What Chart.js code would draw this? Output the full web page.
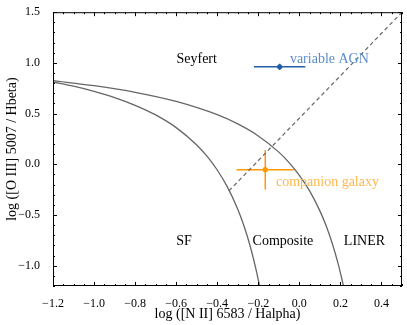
<!DOCTYPE html>
<html>
<head>
<meta charset="utf-8">
<script src="https://cdn.jsdelivr.net/npm/chart.js@4/dist/chart.umd.min.js"></script>
<style>
  html, body { margin: 0; padding: 0; background: #fff; }
  #wrap { width: 407px; height: 325px; }
</style>
</head>
<body>
<div id="wrap"><canvas id="bpt" width="407" height="325"></canvas></div>
<script>
// demarcation curves
const kauffX = [-1.2, -1.1, -1.0, -0.9, -0.8, -0.7, -0.6, -0.5, -0.45, -0.4, -0.35, -0.3, -0.27, -0.24, -0.21, -0.194];
const kauffY = [0.812, 0.770, 0.719, 0.658, 0.582, 0.487, 0.362, 0.191, 0.080, -0.056, -0.225, -0.443, -0.606, -0.803, -1.046, -1.2];
const kewleyX = [-1.2, -1.0, -0.8, -0.6, -0.4, -0.3, -0.2, -0.1, -0.05, 0.0, 0.05, 0.1, 0.13, 0.16, 0.19, 0.215];
const kewleyY = [0.825, 0.775, 0.710, 0.620, 0.489, 0.398, 0.280, 0.120, 0.017, -0.108, -0.262, -0.459, -0.604, -0.778, -0.989, -1.2];
const dashX = [-0.343, 0.5];
const dashY = [-0.262, 1.5];

// sources with errors
const srcNames = ['variable AGN', 'companion galaxy'];
const srcX = [-0.096, -0.166];
const srcY = [0.961, -0.053];
const srcXErr = [0.125, 0.14];
const srcYErr = [0.03, 0.195];
const srcColors = ['#1f5fa5', '#ff9900'];
const srcTextColors = ['#5a8ccb', '#ffb84d'];

const xTicks = [-1.2, -1.0, -0.8, -0.6, -0.4, -0.2, 0.0, 0.2, 0.4];
const yTicks = [-1.0, -0.5, 0.0, 0.5, 1.0, 1.5];

const regionLabels = [
    { text: 'Seyfert', x: -0.50, y: 1.04, align: 'center' },
    { text: 'SF', x: -0.562, y: -0.76, align: 'center' },
    { text: 'Composite', x: -0.08, y: -0.76, align: 'center' },
    { text: 'LINER', x: 0.317, y: -0.76, align: 'center' }
];
const srcLabelPos = [
    { x: -0.046, y: 1.04 },
    { x: -0.114, y: -0.173 }
];

const serif = "'Liberation Serif', 'DejaVu Serif', serif";
const fmt = v => v.toFixed(1).replace('-', '\u2212');
const pairs = (xs, ys) => xs.map((x, i) => ({ x: x, y: ys[i] }));

const datasets = [
    { data: pairs(kauffX, kauffY), borderColor: '#666666', borderWidth: 1.3 },
    { data: pairs(kewleyX, kewleyY), borderColor: '#666666', borderWidth: 1.3 },
    { data: pairs(dashX, dashY), borderColor: '#666666', borderWidth: 1.2, borderDash: [4, 3] }
];
srcNames.forEach((n, i) => {
    datasets.push({
        data: [{ x: srcX[i] - srcXErr[i], y: srcY[i] }, { x: srcX[i] + srcXErr[i], y: srcY[i] }],
        borderColor: srcColors[i], borderWidth: 1.5
    });
    datasets.push({
        data: [{ x: srcX[i], y: srcY[i] - srcYErr[i] }, { x: srcX[i], y: srcY[i] + srcYErr[i] }],
        borderColor: srcColors[i], borderWidth: 1.5
    });
    datasets.push({
        data: [{ x: srcX[i], y: srcY[i] }],
        showLine: false, pointRadius: 2.6, pointBackgroundColor: srcColors[i], pointBorderWidth: 0
    });
});
datasets.forEach(d => {
    d.type = 'line';
    if (d.pointRadius === undefined) d.pointRadius = 0;
    d.fill = false;
    d.tension = 0;
    d.cubicInterpolationMode = 'monotone';
});
datasets.slice(0, 2).forEach(d => { d.tension = 0.4; });

// frame, inward ticks, annotations
const framePlugin = {
    id: 'frame',
    afterDatasetsDraw(chart) {
        const ctx = chart.ctx;
        const a = chart.chartArea;
        const xs = chart.scales.x, ys = chart.scales.y;
        ctx.save();
        ctx.strokeStyle = '#000';
        ctx.lineWidth = 1;
        ctx.strokeRect(a.left + 0.5, a.top + 0.5, a.right - a.left - 1, a.bottom - a.top - 1);
        ctx.beginPath();
        for (let v = -1.2; v <= 0.5001; v += 0.05) {
            const major = Math.abs(Math.round(v * 5) - v * 5) < 1e-6;
            const len = major ? 4 : 2;
            const px = Math.round(xs.getPixelForValue(v)) + 0.5;
            ctx.moveTo(px, a.bottom); ctx.lineTo(px, a.bottom - len);
            ctx.moveTo(px, a.top); ctx.lineTo(px, a.top + len);
        }
        for (let v = -1.2; v <= 1.5001; v += 0.1) {
            const major = Math.abs(Math.round(v * 2) - v * 2) < 1e-6;
            const len = major ? 4 : 2;
            const py = Math.round(ys.getPixelForValue(v)) + 0.5;
            ctx.moveTo(a.left, py); ctx.lineTo(a.left + len, py);
            ctx.moveTo(a.right, py); ctx.lineTo(a.right - len, py);
        }
        ctx.stroke();

        ctx.font = '14px ' + serif;
        ctx.textBaseline = 'middle';
        ctx.fillStyle = '#000';
        regionLabels.forEach(l => {
            ctx.textAlign = l.align;
            ctx.fillText(l.text, xs.getPixelForValue(l.x), ys.getPixelForValue(l.y));
        });
        srcNames.forEach((n, i) => {
            ctx.textAlign = 'left';
            ctx.fillStyle = srcTextColors[i];
            ctx.fillText(n, xs.getPixelForValue(srcLabelPos[i].x), ys.getPixelForValue(srcLabelPos[i].y));
        });
        ctx.restore();
    }
};

new Chart(document.getElementById('bpt'), {
    type: 'line',
    data: { datasets: datasets },
    plugins: [framePlugin],
    options: {
        responsive: false,
        animation: false,
        layout: { padding: { top: 9, right: 5, left: 4, bottom: 0 } },
        plugins: { legend: { display: false }, tooltip: { enabled: false } },
        scales: {
            x: {
                type: 'linear', min: -1.2, max: 0.5,
                afterBuildTicks: s => { s.ticks = xTicks.map(v => ({ value: v })); },
                afterFit: s => { s.height = 39; },
                grid: { display: false },
                border: { display: false },
                ticks: {
                    callback: v => fmt(v), color: '#000', padding: 3,
                    maxRotation: 0, autoSkip: false,
                    font: { family: serif, size: 12 }
                },
                title: {
                    display: true, text: 'log ([N II] 6583 / Halpha)', color: '#000',
                    font: { family: serif, size: 14 }, padding: { top: 0, bottom: 2 }
                }
            },
            y: {
                type: 'linear', min: -1.2, max: 1.5,
                afterBuildTicks: s => { s.ticks = yTicks.map(v => ({ value: v })); },
                afterFit: s => { s.width = 49; },
                grid: { display: false },
                border: { display: false },
                ticks: {
                    callback: v => fmt(v), color: '#000', padding: 5,
                    autoSkip: false,
                    font: { family: serif, size: 12 }
                },
                title: {
                    display: true, text: 'log ([O III] 5007 / Hbeta)', color: '#000',
                    font: { family: serif, size: 14 }, padding: { top: 0, bottom: 2 }
                }
            }
        }
    }
});
</script>
</body>
</html>
